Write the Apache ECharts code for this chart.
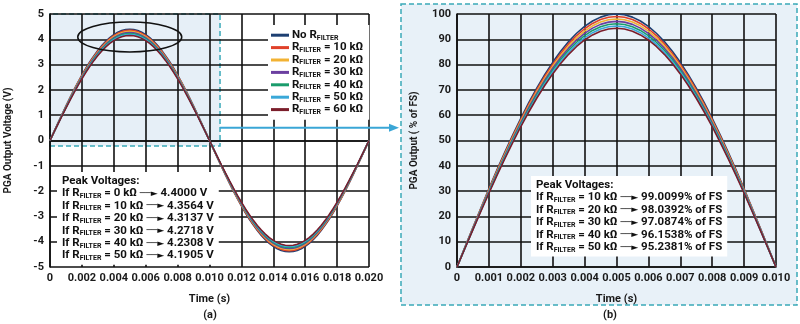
<!DOCTYPE html>
<html><head><meta charset="utf-8">
<script src="https://cdn.jsdelivr.net/npm/echarts@6/dist/echarts.min.js"></script>
<style>html,body{margin:0;padding:0;background:#fff}#c{width:800px;height:324px}</style>
</head><body><div id="c"></div>
<script>
const seriesNames = ['No R_FILTER','R_FILTER = 10 kΩ','R_FILTER = 20 kΩ','R_FILTER = 30 kΩ','R_FILTER = 40 kΩ','R_FILTER = 50 kΩ','R_FILTER = 60 kΩ'];
const seriesColors = ['#1d3f72','#e0412a','#f2b233','#6b3fa0','#1a9c6c','#3aa8d8','#7b1e2b'];
const peakVolts = [4.4000,4.3564,4.3137,4.2718,4.2308,4.1905,4.1509];
const peakPercent = [100,99.0099,98.0392,97.0874,96.1538,95.2381,94.3396];
// normalized half-wave shape, sampled every 0.00025 s
const halfWaveShape = [0,0.0785,0.1564,0.2334,0.3090,0.3827,0.4540,0.5225,0.5878,0.6494,0.7071,0.7604,0.8090,0.8526,0.8910,0.9239,0.9511,0.9724,0.9877,0.9969,1,
  0.9969,0.9877,0.9724,0.9511,0.9239,0.8910,0.8526,0.8090,0.7604,0.7071,0.6494,0.5878,0.5225,0.4540,0.3827,0.3090,0.2334,0.1564,0.0785,0];
const timeStep = 0.00025;
const xTicksA = ['0','0.002','0.004','0.006','0.008','0.010','0.012','0.014','0.016','0.018','0.020'];
const yTicksA = ['-5','-4','-3','-2','-1','0','1','2','3','4','5'];
const xTicksB = ['0','0.001','0.002','0.003','0.004','0.005','0.006','0.007','0.008','0.009','0.010'];
const yTicksB = ['0','10','20','30','40','50','60','70','80','90','100'];
const annotA = [['0','4.4000 V'],['10','4.3564 V'],['20','4.3137 V'],['30','4.2718 V'],['40','4.2308 V'],['50','4.1905 V']];
const annotB = [['10','99.0099% of FS'],['20','98.0392% of FS'],['30','97.0874% of FS'],['40','96.1538% of FS'],['50','95.2381% of FS']];

const FF = 'Roboto, "DejaVu Sans", sans-serif';
const fullWave = halfWaveShape.concat(halfWaveShape.slice(1).map(v => -v));
const chart = echarts.init(document.getElementById('c'), null, {renderer:'canvas'});

const axisLbl = {color:'#1a1a1a', fontWeight:'bold', fontSize:11, fontFamily:FF};
const split = {show:true, lineStyle:{color:'#111', width:1.6}};
const axLine = {show:true, lineStyle:{color:'#111', width:1.6}};

const series = [];
series.push({type:'line', xAxisIndex:0, yAxisIndex:0, data:[], z:1, silent:true,
  markArea:{silent:true, itemStyle:{color:'#e6eff7', borderColor:'#3aa9b8', borderWidth:1.5, borderType:[5,3]},
    data:[[{xAxis:0, yAxis:-0.22},{xAxis:0.01066, yAxis:5}]]}});
seriesNames.forEach((nm,i) => {
  series.push({name:nm, type:'line', xAxisIndex:0, yAxisIndex:0, showSymbol:false, z:3,
    lineStyle:{width:1.6, color:seriesColors[i]}, itemStyle:{color:seriesColors[i]},
    data: fullWave.map((s,k) => [k*timeStep, s*peakVolts[i]])});
  series.push({name:nm, type:'line', xAxisIndex:1, yAxisIndex:1, showSymbol:false, z:3,
    lineStyle:{width:1.6, color:seriesColors[i]}, itemStyle:{color:seriesColors[i]},
    data: halfWaveShape.map((s,k) => [k*timeStep, s*peakPercent[i]])});
});

const rich = {
  n:{font:'bold 11.5px '+FF, fill:'#111', lineHeight:12.4},
  s:{font:'bold 7px '+FF, fill:'#111', lineHeight:7, verticalAlign:'bottom'},
  a:{font:'9px "DejaVu Sans"', fill:'#111', lineHeight:12.4}
};
const legendRich = {
  n:{fontWeight:'bold', fontSize:11.5, fontFamily:FF, color:'#111', lineHeight:12.4},
  s:{fontWeight:'bold', fontSize:7, fontFamily:FF, color:'#111', lineHeight:7, verticalAlign:'bottom'}
};
function sub(txt){ return txt.replace(/^(.*)R_FILTER(.*)$/, (m,a,b) => (a?'{n|'+a+'R}':'{n|R}')+'{s|FILTER}'+'{n|'+b+'}'); }

const linesA = ['{n|Peak Voltages:}'].concat(annotA.map(r => '{n|If R}{s|FILTER}{n| = '+r[0]+' kΩ }{a|──►}{n| '+r[1]+'}'));
const linesB = ['{n|Peak Voltages:}'].concat(annotB.map(r => '{n|If R}{s|FILTER}{n| = '+r[0]+' kΩ }{a|──►}{n| '+r[1]+'}'));

chart.setOption({
  animation:false,
  backgroundColor:'#fff',
  grid:[{left:50, right:431, top:14, bottom:57, containLabel:false},
        {left:457, right:24, top:14, bottom:57, containLabel:false}],
  xAxis:[
    {type:'value', gridIndex:0, min:0, max:0.02, interval:0.002, z:2,
     axisLine:axLine, axisTick:{show:false}, splitLine:split,
     axisLabel:Object.assign({margin:6, formatter:(v,i)=>xTicksA[i]}, axisLbl),
     name:'Time (s)', nameLocation:'middle', nameGap:27, nameTextStyle:{color:'#1a1a1a', fontWeight:'bold', fontSize:11, fontFamily:FF}},
    {type:'value', gridIndex:1, min:0, max:0.01, interval:0.001, z:2,
     axisLine:axLine, axisTick:{show:false}, splitLine:split,
     axisLabel:Object.assign({margin:6, formatter:(v,i)=>xTicksB[i]}, axisLbl),
     name:'Time (s)', nameLocation:'middle', nameGap:27, nameTextStyle:{color:'#1a1a1a', fontWeight:'bold', fontSize:11, fontFamily:FF}}
  ],
  yAxis:[
    {type:'value', gridIndex:0, min:-5, max:5, interval:1, z:2,
     axisLine:axLine, axisTick:{show:false}, splitLine:split,
     axisLabel:Object.assign({margin:6, formatter:(v,i)=>yTicksA[i]}, axisLbl),
     name:'PGA Output Voltage (V)', nameLocation:'middle', nameGap:37, nameTextStyle:{color:'#1a1a1a', fontWeight:'bold', fontSize:10, fontFamily:FF}},
    {type:'value', gridIndex:1, min:0, max:100, interval:10, z:2,
     axisLine:axLine, axisTick:{show:false}, splitLine:split,
     axisLabel:Object.assign({margin:6, formatter:(v,i)=>yTicksB[i]}, axisLbl),
     name:'PGA Output ( % of FS)', nameLocation:'middle', nameGap:38, nameTextStyle:{color:'#1a1a1a', fontWeight:'bold', fontSize:10, fontFamily:FF}}
  ],
  legend:{data:seriesNames, orient:'vertical', left:268, top:25, itemWidth:18, itemHeight:3, icon:'rect', itemGap:0,
    backgroundColor:'#fff', padding:[4,6,4,3], selectedMode:false, z:6,
    formatter:name => sub(name),
    textStyle:{rich:legendRich, lineHeight:12.4, padding:[0,0,0,-2]}},
  series:series
});

// annotations positioned from data coordinates
const c = chart.convertToPixel({gridIndex:0}, [0.005, 4.09]);
const e = chart.convertToPixel({gridIndex:0}, [0.00826, 3.5]);
const a0 = chart.convertToPixel({gridIndex:0}, [0.01066, 0.5]);
chart.setOption({graphic:[
  {type:'rect', z:-5, shape:{x:401, y:4, width:396, height:301}, style:{fill:'#e8f1f8', stroke:'#3aa9b8', lineWidth:1.5, lineDash:[5,3]}},
  {type:'text', z:10, x:57, y:172, style:{text:linesA.join('\n'), rich:rich, backgroundColor:'#fff', padding:[3,5,3,5], verticalAlign:'top'}},
  {type:'text', z:10, x:531, y:176, style:{text:linesB.join('\n'), rich:rich, backgroundColor:'#fff', padding:[3,5,3,5], verticalAlign:'top'}},
  {type:'text', z:10, x:210, y:315, style:{text:'(a)', font:'bold 11px '+FF, fill:'#1a1a1a', align:'center', verticalAlign:'middle'}},
  {type:'text', z:10, x:610, y:315, style:{text:'(b)', font:'bold 11px '+FF, fill:'#1a1a1a', align:'center', verticalAlign:'middle'}},
  {type:'ellipse', z:10, shape:{cx:c[0], cy:c[1], rx:e[0]-c[0], ry:e[1]-c[1]}, style:{fill:'none', stroke:'#111', lineWidth:1.5}},
  {type:'line', z:10, shape:{x1:a0[0], y1:a0[1], x2:390, y2:a0[1]}, style:{stroke:'#3aa6d6', lineWidth:2}},
  {type:'polygon', z:10, shape:{points:[[389,a0[1]-4],[399,a0[1]],[389,a0[1]+4]]}, style:{fill:'#3aa6d6'}}
]});
</script></body></html>
